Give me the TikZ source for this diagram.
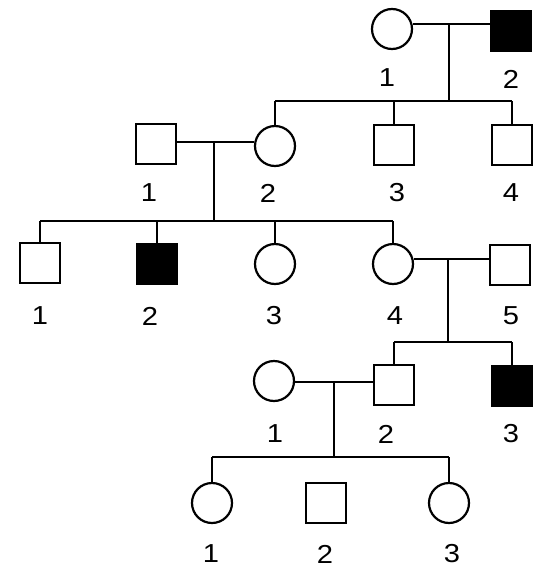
\documentclass[tikz,border=0pt]{standalone}
\usepackage{fontspec}
\setmainfont{Liberation Sans}
\newfontfamily\lblfont{Liberation Sans}[FakeStretch=1.12]
\begin{document}
\begin{tikzpicture}[x=1pt,y=-1pt,
  sq/.style={draw,line width=2.2pt,minimum size=40pt,inner sep=0pt},
  ci/.style={draw,circle,line width=2.2pt,minimum size=40pt,inner sep=0pt},
  aff/.style={fill=black},
  lbl/.style={font=\lblfont\fontsize{26}{30}\selectfont,inner sep=0pt},
  ln/.style={line width=2.2pt}]
\useasboundingbox (0,0) rectangle (543,576);
% Generation I
\node[ci] (I1) at (392,29) {};
\node[sq,aff] (I2) at (511,31) {};
\node[lbl] (lI1) at (387,78) {1};
\node[lbl] (lI2) at (511,79) {2};
% Generation II
\node[sq] (II1) at (156,144) {};
\node[ci] (II2) at (275,146) {};
\node[sq] (II3) at (394,145) {};
\node[sq] (II4) at (512,145) {};
\node[lbl] (lII1) at (149,193) {1};
\node[lbl] (lII2) at (268,193) {2};
\node[lbl] (lII3) at (397,193) {3};
\node[lbl] (lII4) at (511,193) {4};
% Generation III
\node[sq] (III1) at (40,263) {};
\node[sq,aff] (III2) at (157,264) {};
\node[ci] (III3) at (275,264) {};
\node[ci] (III4) at (393,264) {};
\node[sq] (III5) at (510,265) {};
\node[lbl] (lIII1) at (40,316) {1};
\node[lbl] (lIII2) at (150,316) {2};
\node[lbl] (lIII3) at (274,316) {3};
\node[lbl] (lIII4) at (395,316) {4};
\node[lbl] (lIII5) at (511,316) {5};
% Generation IV
\node[ci] (IV1) at (274,381) {};
\node[sq] (IV2) at (394,385) {};
\node[sq,aff] (IV3) at (512,386) {};
\node[lbl] (lIV1) at (275,434) {1};
\node[lbl] (lIV2) at (386,434) {2};
\node[lbl] (lIV3) at (511,434) {3};
% Generation V
\node[ci] (V1) at (212,503) {};
\node[sq] (V2) at (326,503) {};
\node[ci] (V3) at (449,503) {};
\node[lbl] (lV1) at (211,554) {1};
\node[lbl] (lV2) at (325,554) {2};
\node[lbl] (lV3) at (452,554) {3};
% junction coordinates
\coordinate (mI) at (449,24);
\coordinate (sI) at (449,101);
\coordinate (mII) at (214,142);
\coordinate (sII) at (214,221);
\coordinate (mIII) at (448,259);
\coordinate (sIII) at (448,342);
\coordinate (mIV) at (334,382);
\coordinate (sIV) at (334,457);
% Generation I family
\draw[ln] (I1.east |- mI) -- (I2.west |- mI);
\draw[ln] (mI) -- (sI);
\draw[ln] (II2.north |- sI) -- (II4.north |- sI);
\draw[ln] (II2.north |- sI) -- (II2.north);
\draw[ln] (II3.north |- sI) -- (II3.north);
\draw[ln] (II4.north |- sI) -- (II4.north);
% Generation II family
\draw[ln] (II1.east |- mII) -- (II2.west |- mII);
\draw[ln] (mII) -- (sII);
\draw[ln] (III1.north |- sII) -- (III4.north |- sII);
\draw[ln] (III1.north |- sII) -- (III1.north);
\draw[ln] (III2.north |- sII) -- (III2.north);
\draw[ln] (III3.north |- sII) -- (III3.north);
\draw[ln] (III4.north |- sII) -- (III4.north);
% Generation III family
\draw[ln] (III4.east |- mIII) -- (III5.west |- mIII);
\draw[ln] (mIII) -- (sIII);
\draw[ln] (IV2.north |- sIII) -- (IV3.north |- sIII);
\draw[ln] (IV2.north |- sIII) -- (IV2.north);
\draw[ln] (IV3.north |- sIII) -- (IV3.north);
% Generation IV family
\draw[ln] (IV1.east |- mIV) -- (IV2.west |- mIV);
\draw[ln] (mIV) -- (sIV);
\draw[ln] (V1.north |- sIV) -- (V3.north |- sIV);
\draw[ln] (V1.north |- sIV) -- (V1.north);
\draw[ln] (V3.north |- sIV) -- (V3.north);
\end{tikzpicture}
\end{document}
